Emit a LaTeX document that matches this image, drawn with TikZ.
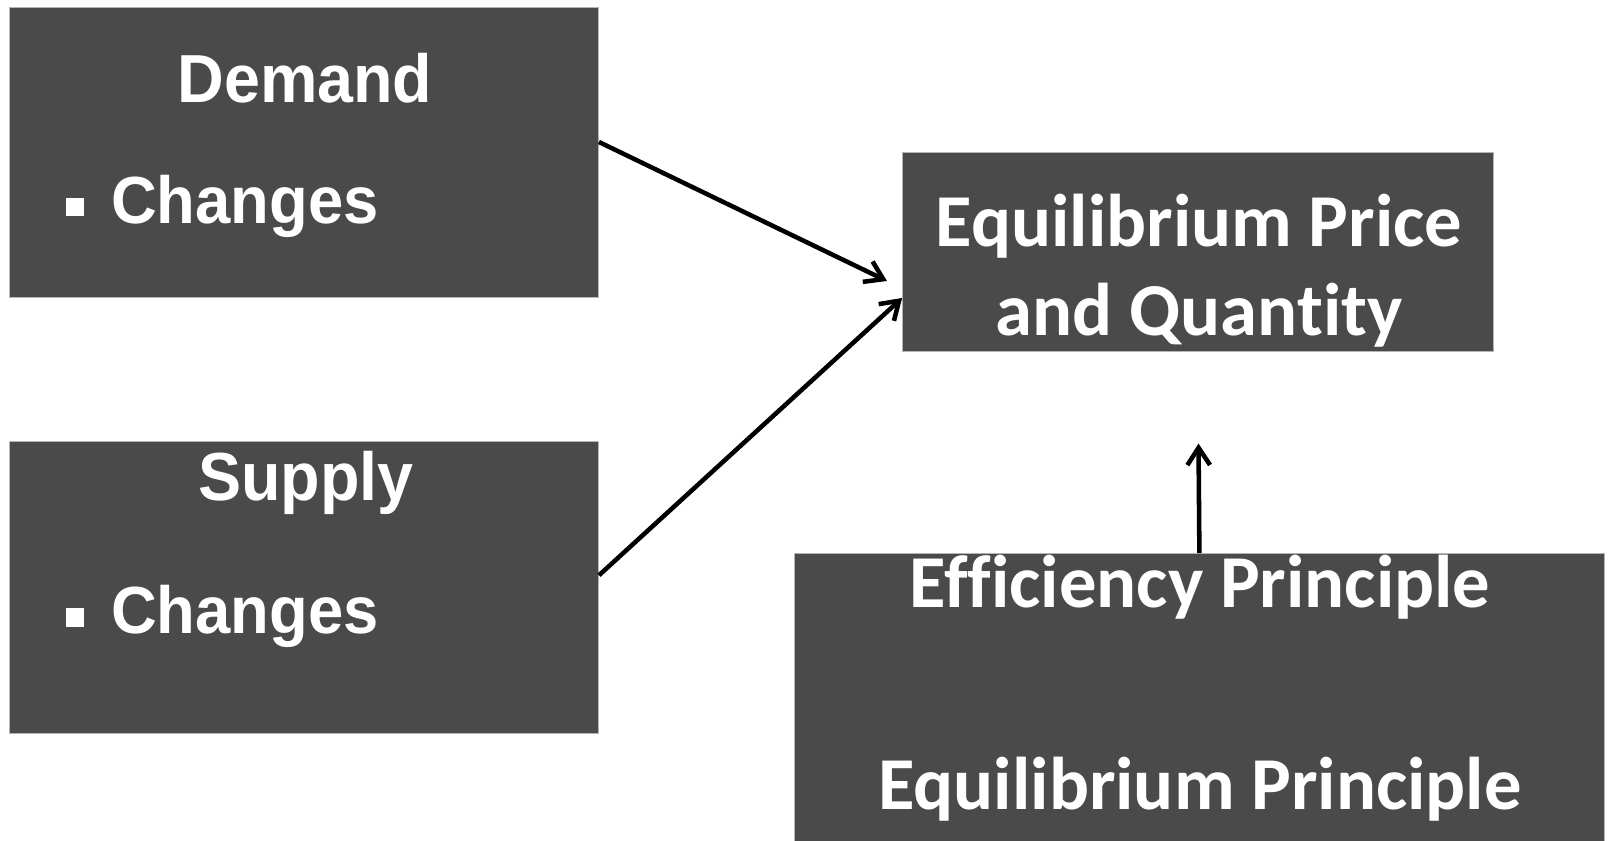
\documentclass[tikz,border=0pt]{standalone}
\usepackage{fontspec}
\setmainfont[Ligatures=NoCommon]{Carlito}
\newfontfamily\panelfont[FakeStretch=0.95]{Liberation Sans}
\usetikzlibrary{arrows.meta, positioning, calc}
\definecolor{PanelFill}{HTML}{4A4A4A}
\definecolor{PanelEdge}{HTML}{B4B4B4}
\definecolor{LinkInk}{HTML}{000000}

\begin{document}
\begin{tikzpicture}[
  x=0.75pt,
  y=-0.75pt,
  panel/.style={
    draw=PanelEdge,
    line width=0.6pt,
    fill=PanelFill,
    inner sep=0pt,
  },
  headtxt/.style={
    text=white,
    inner sep=0pt,
    anchor=base,
    font=\panelfont\bfseries\fontsize{51}{60}\selectfont,
  },
  itemtxt/.style={
    headtxt,
    anchor=base west,
    font=\panelfont\bfseries\fontsize{50}{60}\selectfont,
  },
  sqbullet/.style={
    rectangle,
    fill=white,
    inner sep=0pt,
    minimum size=14.2pt,
  },
  eqtxt/.style={
    text=white,
    inner sep=0pt,
    anchor=base,
    font=\bfseries\fontsize{56}{66}\selectfont,
  },
  link/.style={
    draw=LinkInk,
    line width=3.4pt,
    -{Straight Barb[length=13pt, width=17pt, line width=3.4pt]},
  },
]
  \clip (0,0) rectangle (1610,841);
  \fill[white] (0,0) rectangle (1610,841);

  \node[panel, minimum width=442pt, minimum height=218pt] (demand) at (303.9,152.5) {};
  \node[headtxt] (demandT) at (305,103) {Demand};
  \node[sqbullet] (demandB) at (75,207) {};
  \node[itemtxt] (demandI) at (111,224) {Changes};

  \node[panel, minimum width=442pt, minimum height=218.6pt] (supply) at (303.9,587.3) {};
  \node[headtxt] (supplyT) at (306,500) {Supply};
  \node[sqbullet] (supplyB) at (75,617.5) {};
  \node[itemtxt] (supplyI) at (111,633.5) {Changes};

  \node[panel, minimum width=442.9pt, minimum height=149.2pt] (eqm) at (1197.8,251.5) {};
  \node[eqtxt] (eqmA) at (1199,246.4) {Equilibrium Price};
  \node[eqtxt] (eqmB) at (1199,335.8) {and Quantity};

  \node[panel, minimum width=607pt, minimum height=222.4pt] (rules) at (1199.4,701.75) {};
  \node[eqtxt] (rulesA) at (1200,607.9) {Efficiency Principle};
  \node[eqtxt] (rulesB) at (1200,809) {Equilibrium Principle};

  \coordinate (demandTip) at (887,281);
  \coordinate (rulesTip) at (1198.5,443.6);

  \draw[link] ($(demand.east)+(0,-10.5)$) -- (demandTip);
  \draw[link] ($(supply.east)+(0,-12)$) -- ($(eqm.west)+(0,46.5)$);
  \draw[link] (rules.north) -- (rulesTip);
\end{tikzpicture}
\end{document}
